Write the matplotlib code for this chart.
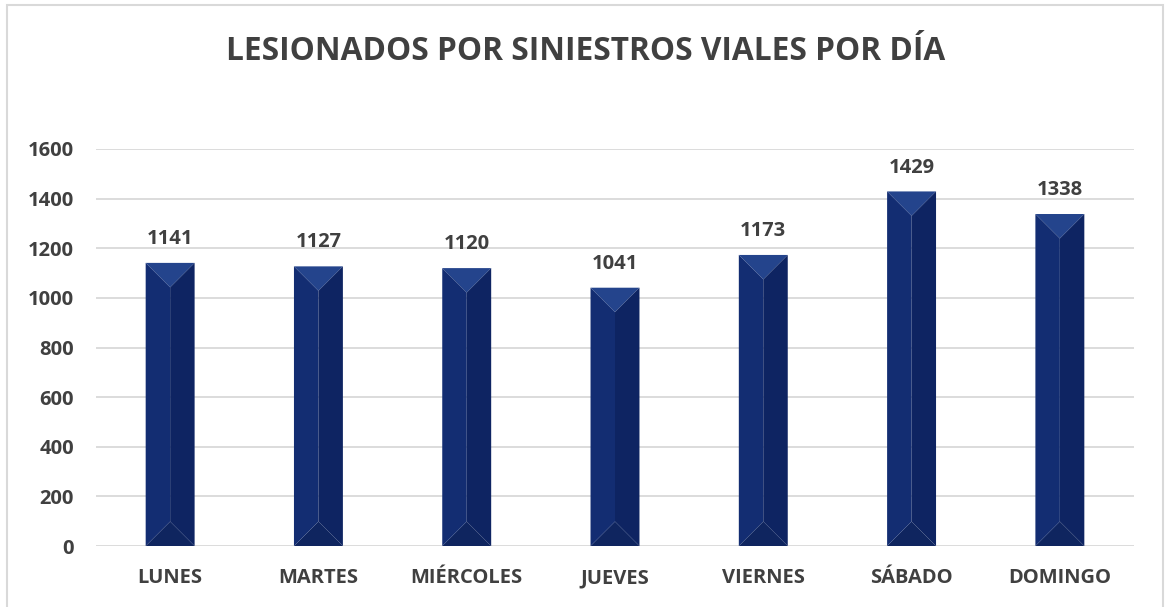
import matplotlib.pyplot as plt
from matplotlib.patches import Rectangle, Polygon

dias = ['LUNES', 'MARTES', 'MIÉRCOLES', 'JUEVES', 'VIERNES', 'SÁBADO', 'DOMINGO']
lesionados = [1141, 1127, 1120, 1041, 1173, 1429, 1338]
ticks_y = [0, 200, 400, 600, 800, 1000, 1200, 1400, 1600]

plt.rcParams['font.family'] = ['Open Sans', 'DejaVu Sans']
gris = '#404040'

fig = plt.figure(figsize=(11.67, 6.07), dpi=100)
# marco del gráfico
fig.patches.append(Rectangle((7 / 1167, -0.05), 1156 / 1167, 1.05 - 5 / 607,
                             transform=fig.transFigure, fill=False,
                             edgecolor='#d9d9d9', linewidth=1.5))

ax = fig.add_axes([96 / 1167, 1 - 546 / 607, 1038 / 1167, 397 / 607])
ax.set_xlim(-0.5, len(dias) - 0.5)
ax.set_ylim(0, 1600)
ax.set_yticks(ticks_y)
ax.set_yticklabels([str(t) for t in ticks_y], fontsize=14.5, fontweight='bold', color=gris)
ax.set_xticks(range(len(dias)))
ax.set_xticklabels(dias, fontsize=14.5, fontweight='bold', color=gris)
ax.tick_params(length=0)
ax.tick_params(axis='y', pad=16)
ax.tick_params(axis='x', pad=16)
ax.grid(axis='y', color='#d9d9d9', linewidth=1.3)
ax.set_axisbelow(True)
for s in ax.spines.values():
    s.set_visible(False)

ancho = 0.33
# profundidad del bisel (45 grados) en unidades de datos
px_x = 1038 / len(dias)
px_y = 397 / 1600
bisel = (ancho / 2) * px_x / px_y

for i, v in enumerate(lesionados):
    x0, x1, xc = i - ancho / 2, i + ancho / 2, i
    ax.add_patch(Polygon([(x0, v), (x1, v), (xc, v - bisel)], facecolor='#24448c', edgecolor='none'))
    ax.add_patch(Polygon([(x0, 0), (x1, 0), (xc, bisel)], facecolor='#0f255f', edgecolor='none'))
    ax.add_patch(Polygon([(x0, v), (x0, 0), (xc, bisel), (xc, v - bisel)], facecolor='#132d72', edgecolor='none'))
    ax.add_patch(Polygon([(x1, v), (x1, 0), (xc, bisel), (xc, v - bisel)], facecolor='#0e2462', edgecolor='none'))
    ax.annotate(str(v), (i, v), xytext=(0, 10), textcoords='offset points',
                ha='center', va='bottom', fontsize=14.5, fontweight='bold', color=gris)

fig.text(586 / 1167, 1 - 51 / 607, 'LESIONADOS POR SINIESTROS VIALES POR DÍA',
         ha='center', va='center', fontsize=22.8, fontweight='bold', color=gris)

fig.savefig('out.png', dpi=100, facecolor='white')
